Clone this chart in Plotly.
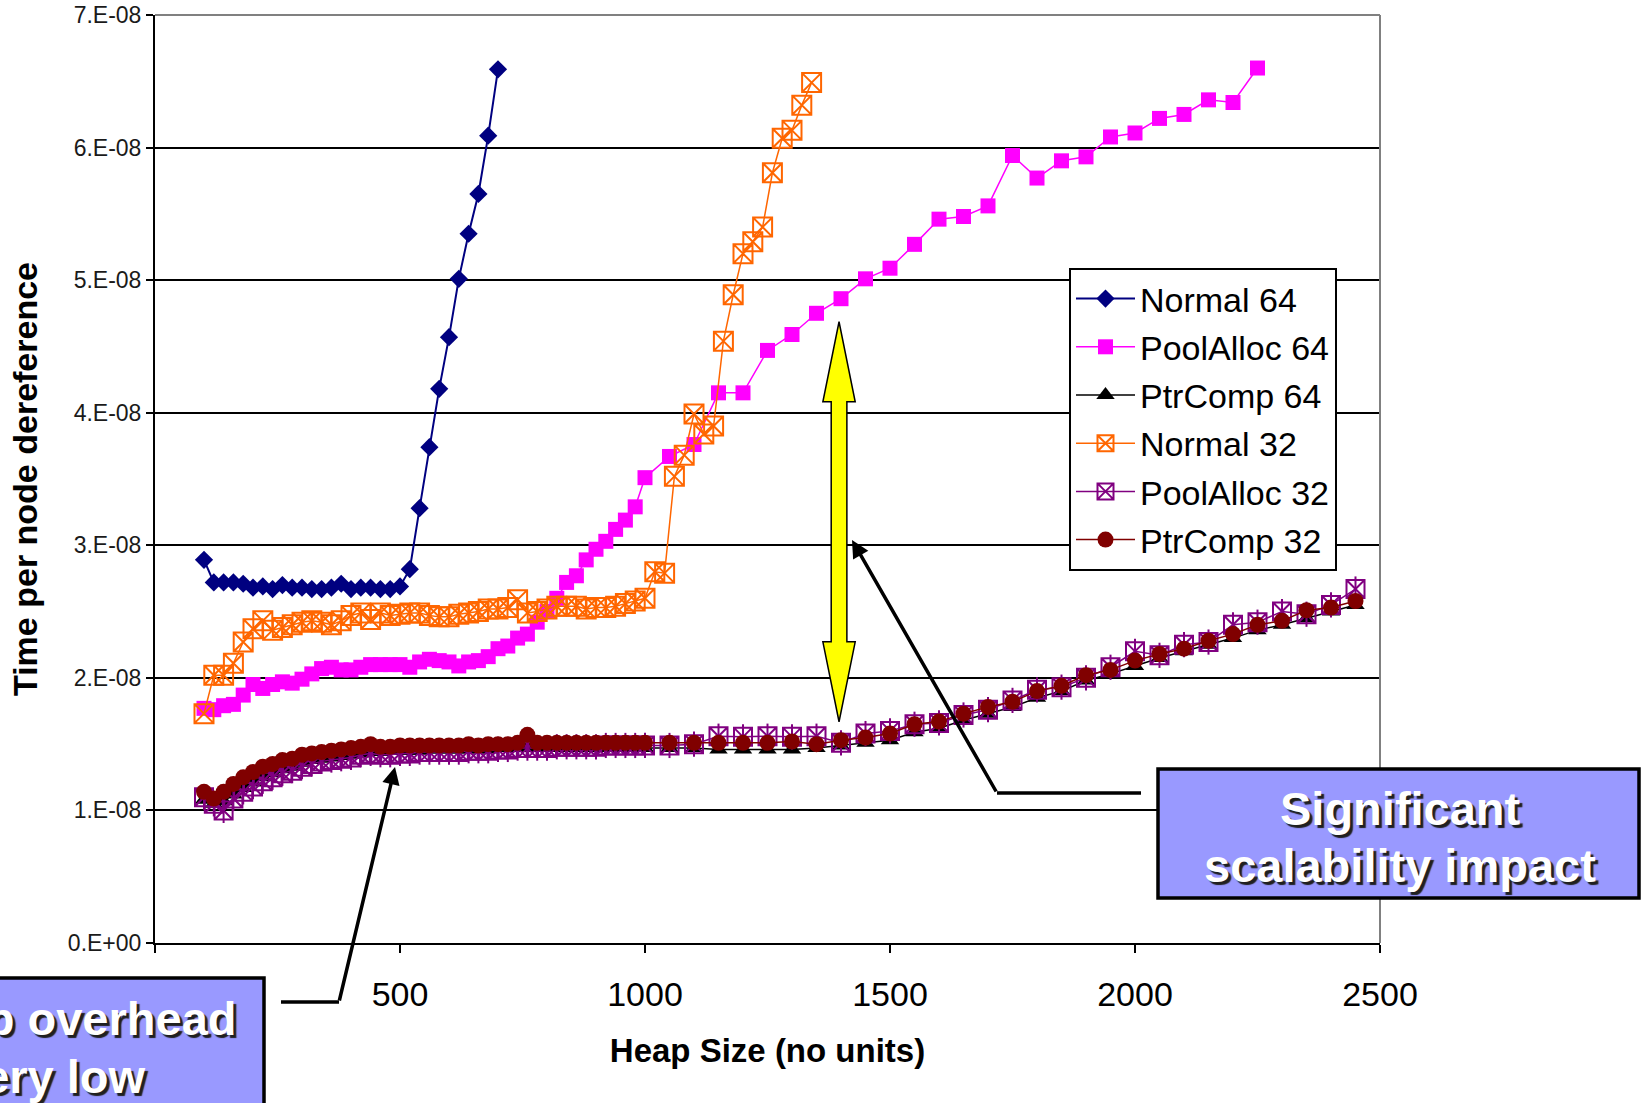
import plotly.graph_objects as go

# ---------------- data (time values in units of 1e-8 s) ----------------
x_normal64 = list(range(100, 701, 20))
normal64 = [2.89, 2.72, 2.72, 2.72, 2.71, 2.68, 2.69, 2.67, 2.70, 2.68, 2.68, 2.67, 2.67, 2.68, 2.71, 2.67,
            2.68, 2.68, 2.67, 2.67, 2.69, 2.82, 3.28, 3.74, 4.18, 4.57, 5.01, 5.35, 5.65, 6.09, 6.59]

x_normal32 = list(range(100, 1341, 20))
normal32 = [1.73, 2.02, 2.02, 2.11, 2.27, 2.37, 2.43, 2.36, 2.38, 2.40, 2.42, 2.43, 2.42, 2.40, 2.43, 2.47,
            2.49, 2.44, 2.49, 2.47, 2.48, 2.49, 2.49, 2.47, 2.46, 2.46, 2.48, 2.49, 2.50, 2.52, 2.52, 2.53,
            2.59, 2.49, 2.50, 2.52, 2.54, 2.54, 2.54, 2.52, 2.53, 2.53, 2.54, 2.56, 2.58, 2.60,
            2.80, 2.79, 3.52, 3.68, 3.99, 3.84, 3.90, 4.54, 4.89, 5.20, 5.29, 5.40, 5.81, 6.07, 6.13, 6.32, 6.49]

x_pool64 = list(range(100, 1001, 20)) + list(range(1050, 2251, 50))
pool64 = [1.77, 1.76, 1.79, 1.80, 1.87, 1.95, 1.92, 1.95, 1.97, 1.96, 1.99, 2.03, 2.07, 2.08, 2.06, 2.06,
          2.08, 2.10, 2.10, 2.10, 2.10, 2.08, 2.12, 2.14, 2.13, 2.12, 2.09, 2.12, 2.13, 2.16, 2.22, 2.24,
          2.30, 2.33, 2.42, 2.50, 2.60, 2.72, 2.77, 2.89, 2.97, 3.03, 3.12, 3.19, 3.29, 3.51,
          3.67, 3.76, 4.15, 4.15, 4.47, 4.59, 4.75, 4.86, 5.01, 5.09, 5.27, 5.46, 5.48, 5.56, 5.94, 5.77,
          5.90, 5.93, 6.08, 6.11, 6.22, 6.25, 6.36, 6.34, 6.60]

x_low = list(range(100, 1001, 20)) + list(range(1050, 2451, 50))
ptrcomp64 = [1.08, 1.05, 1.07, 1.12, 1.17, 1.21, 1.25, 1.28, 1.31, 1.33, 1.36, 1.38, 1.39, 1.40, 1.41, 1.42,
             1.43, 1.44, 1.44, 1.45, 1.45, 1.45, 1.45, 1.46, 1.46, 1.46, 1.46, 1.46, 1.46, 1.46, 1.47, 1.47,
             1.47, 1.47, 1.47, 1.47, 1.47, 1.47, 1.47, 1.47, 1.47, 1.47, 1.47, 1.47, 1.47, 1.47,
             1.47, 1.47, 1.46, 1.46, 1.46, 1.46, 1.47, 1.49, 1.51, 1.53, 1.59, 1.62, 1.68, 1.73, 1.78, 1.85,
             1.90, 1.98, 2.03, 2.09, 2.15, 2.20, 2.25, 2.30, 2.36, 2.40, 2.45, 2.50, 2.55]
pool32 = [1.10, 1.05, 1.00, 1.09, 1.14, 1.18, 1.22, 1.25, 1.28, 1.30, 1.33, 1.35, 1.37, 1.38, 1.39, 1.40,
          1.42, 1.43, 1.42, 1.42, 1.43, 1.43, 1.44, 1.44, 1.44, 1.44, 1.44, 1.45, 1.45, 1.45, 1.46, 1.46,
          1.47, 1.47, 1.47, 1.47, 1.48, 1.48, 1.48, 1.48, 1.48, 1.49, 1.49, 1.49, 1.49, 1.49,
          1.49, 1.50, 1.56, 1.555, 1.56, 1.555, 1.56, 1.51, 1.58, 1.60, 1.65, 1.66, 1.72, 1.76, 1.83, 1.91,
          1.93, 2.00, 2.08, 2.20, 2.17, 2.25, 2.27, 2.40, 2.42, 2.50, 2.48, 2.55, 2.67]
ptrcomp32 = [1.14, 1.09, 1.14, 1.20, 1.25, 1.29, 1.33, 1.35, 1.38, 1.39, 1.42, 1.43, 1.44, 1.45, 1.46, 1.47,
             1.48, 1.50, 1.48, 1.48, 1.49, 1.49, 1.49, 1.49, 1.49, 1.49, 1.49, 1.50, 1.49, 1.50, 1.50, 1.50,
             1.51, 1.57, 1.51, 1.51, 1.51, 1.51, 1.51, 1.51, 1.51, 1.51, 1.51, 1.51, 1.51, 1.51,
             1.51, 1.51, 1.51, 1.51, 1.51, 1.52, 1.50, 1.53, 1.55, 1.58, 1.65, 1.67, 1.73, 1.78, 1.82, 1.90,
             1.94, 2.02, 2.06, 2.13, 2.18, 2.22, 2.28, 2.33, 2.40, 2.43, 2.51, 2.53, 2.58]

UNIT = 1e-8
y_tickvals = [0, 1, 2, 3, 4, 5, 6, 7]
y_ticktext = ["0.E+00", "1.E-08", "2.E-08", "3.E-08", "4.E-08", "5.E-08", "6.E-08", "7.E-08"]
x_tickvals = [0, 500, 1000, 1500, 2000, 2500]
x_ticktext = ["", "500", "1000", "1500", "2000", "2500"]

FONT = "Liberation Sans, Arial, sans-serif"

def sc(v):
    return [a * UNIT for a in v]

fig = go.Figure()

fig.add_trace(go.Scatter(x=x_normal64, y=sc(normal64), name="Normal 64", mode="lines+markers",
                         legendgroup="a",
                         line=dict(color="#000080", width=2),
                         marker=dict(symbol="diamond", size=14, color="#000080")))
fig.add_trace(go.Scatter(x=x_pool64, y=sc(pool64), name="PoolAlloc 64", mode="lines+markers",
                         legendgroup="b",
                         line=dict(color="#FF00FF", width=1.5),
                         marker=dict(symbol="square", size=15, color="#FF00FF")))
fig.add_trace(go.Scatter(x=x_low, y=sc(ptrcomp64), name="PtrComp 64", mode="lines+markers",
                         legendgroup="c",
                         line=dict(color="#000000", width=1.5),
                         marker=dict(symbol="triangle-up", size=16, color="#000000")))
n32_line = ["#000000"] + ["#FF6600"] * (len(normal32) - 1)
fig.add_trace(go.Scatter(x=x_normal32, y=sc(normal32), name="Normal 32", mode="lines+markers",
                         legendgroup="d",
                         line=dict(color="#FF6600", width=1.5),
                         marker=dict(symbol="square-x-open", size=19, color="#FF6600",
                                     line=dict(color=n32_line, width=2))))
p32_line = ["#FF6600"] + ["#800080"] * (len(pool32) - 1)
fig.add_trace(go.Scatter(x=x_low, y=sc(pool32), name="PoolAlloc 32", mode="lines+markers",
                         legendgroup="e",
                         line=dict(color="#800080", width=1.5),
                         marker=dict(symbol="square-x-open", size=18, color="#800080",
                                     line=dict(color=p32_line, width=2))))
fig.add_trace(go.Scatter(x=x_low, y=sc(pool32), name="PoolAlloc 32", mode="markers",
                         legendgroup="e", showlegend=False, hoverinfo="skip",
                         marker=dict(symbol="line-ns-open", size=18, color="#800080",
                                     line=dict(color="#800080", width=2))))
fig.add_trace(go.Scatter(x=x_low, y=sc(ptrcomp32), name="PtrComp 32", mode="lines+markers",
                         legendgroup="f",
                         line=dict(color="#800000", width=1.5),
                         marker=dict(symbol="circle", size=16, color="#800000")))

# ---------------- helpers for page-pixel placement ----------------
L, R, T, B = 155, 265, 15, 160
W, H = 1645, 1103
PW, PH = W - L - R, H - T - B

def px(X):
    return (X - L) / PW

def py(Y):
    return (H - B - Y) / PH

shapes = []
# grey top & right frame
shapes.append(dict(type="line", xref="paper", yref="paper", x0=0, x1=1, y0=1, y1=1,
                   line=dict(color="#808080", width=2), layer="above"))
shapes.append(dict(type="line", xref="paper", yref="paper", x0=1, x1=1, y0=0, y1=1,
                   line=dict(color="#808080", width=2), layer="above"))

# yellow double-headed arrow (data -> paper)
XR, YR = 2500.0, 7.0
ax_c = 1396
hw_head, hw_shaft = 33, 16
yt, ys1, ys2, yb = 4.686, 4.082, 2.272, 1.669
pts = [(ax_c, yt), (ax_c + hw_head, ys1), (ax_c + hw_shaft, ys1), (ax_c + hw_shaft, ys2),
       (ax_c + hw_head, ys2), (ax_c, yb), (ax_c - hw_head, ys2), (ax_c - hw_shaft, ys2),
       (ax_c - hw_shaft, ys1), (ax_c - hw_head, ys1)]
path = "M " + " L ".join(f"{x / XR:.5f},{y / YR:.5f}" for x, y in pts) + " Z"
shapes.append(dict(type="path", xref="paper", yref="paper", path=path,
                   fillcolor="#FFFF00", line=dict(color="black", width=1.5), layer="above"))

# connector segments
shapes.append(dict(type="line", xref="paper", yref="paper", x0=px(997), x1=px(1141), y0=py(793), y1=py(793),
                   line=dict(color="black", width=3.5), layer="above"))
shapes.append(dict(type="line", xref="paper", yref="paper", x0=px(281), x1=px(339), y0=py(1002), y1=py(1002),
                   line=dict(color="black", width=3.5), layer="above"))

# annotation boxes
shapes.append(dict(type="rect", xref="paper", yref="paper", x0=px(1158), x1=px(1639), y0=py(898), y1=py(769),
                   fillcolor="#9999FF", line=dict(color="black", width=3.5), layer="above"))
shapes.append(dict(type="rect", xref="paper", yref="paper", x0=px(-200), x1=px(264), y0=py(1140), y1=py(978),
                   fillcolor="#9999FF", line=dict(color="black", width=3.5), layer="above"))

box_font = dict(family=FONT, size=47, color="white", weight=700, shadow="3px 3px 1px #202020")

annotations = [
    dict(xref="paper", yref="paper", x=px(852), y=py(540), ax=997 - 852, ay=793 - 540,
         text="", showarrow=True, arrowhead=2, arrowsize=1, arrowwidth=3.5, arrowcolor="black", standoff=0),
    dict(xref="paper", yref="paper", x=px(395), y=py(767), ax=339 - 395, ay=1002 - 767,
         text="", showarrow=True, arrowhead=2, arrowsize=1, arrowwidth=3.5, arrowcolor="black", standoff=0),
    dict(xref="paper", yref="paper", x=px(1400), y=py(808), xanchor="center", yanchor="middle",
         text="Significant", showarrow=False, font=box_font),
    dict(xref="paper", yref="paper", x=px(1400), y=py(865), xanchor="center", yanchor="middle",
         text="scalability impact", showarrow=False, font=box_font),
    dict(xref="paper", yref="paper", x=px(238), y=py(1018), xanchor="right", yanchor="middle",
         text="PtrComp overhead", showarrow=False, font=box_font),
    dict(xref="paper", yref="paper", x=px(148), y=py(1076), xanchor="right", yanchor="middle",
         text="very low", showarrow=False, font=box_font),
]

fig.update_layout(
    width=W, height=H,
    margin=dict(l=L, r=R, t=T, b=B, autoexpand=False),
    paper_bgcolor="white", plot_bgcolor="white",
    font=dict(family=FONT, color="black"),
    shapes=shapes, annotations=annotations,
    showlegend=True,
    legend=dict(x=px(1069), y=py(268), xanchor="left", yanchor="top",
                bgcolor="white", bordercolor="black", borderwidth=2,
                font=dict(family=FONT, size=34, color="black"),
                traceorder="grouped", tracegroupgap=1, itemwidth=59),
)

fig.update_xaxes(range=[0, 2500], tickvals=x_tickvals, ticktext=x_ticktext,
                 showgrid=False, zeroline=False,
                 showline=True, linecolor="black", linewidth=2,
                 ticks="outside", ticklen=8, tickwidth=2, tickcolor="black",
                 ticklabelstandoff=12,
                 tickfont=dict(family=FONT, size=34, color="black"),
                 title=dict(text="<b>Heap Size (no units)</b>", font=dict(family=FONT, size=33, color="black"),
                            standoff=27))
fig.update_yaxes(range=[0, 7 * UNIT], tickvals=[v * UNIT for v in y_tickvals], ticktext=y_ticktext,
                 showgrid=True, gridcolor="black", gridwidth=1.6, zeroline=False,
                 showline=True, linecolor="black", linewidth=2,
                 ticks="outside", ticklen=7, tickwidth=2, tickcolor="black",
                 tickfont=dict(family=FONT, size=23, color="#1a1a1a"),
                 title=dict(text="<b>Time per node dereference</b>", font=dict(family=FONT, size=34, color="black"),
                            standoff=20))

fig.write_html("out.html")
